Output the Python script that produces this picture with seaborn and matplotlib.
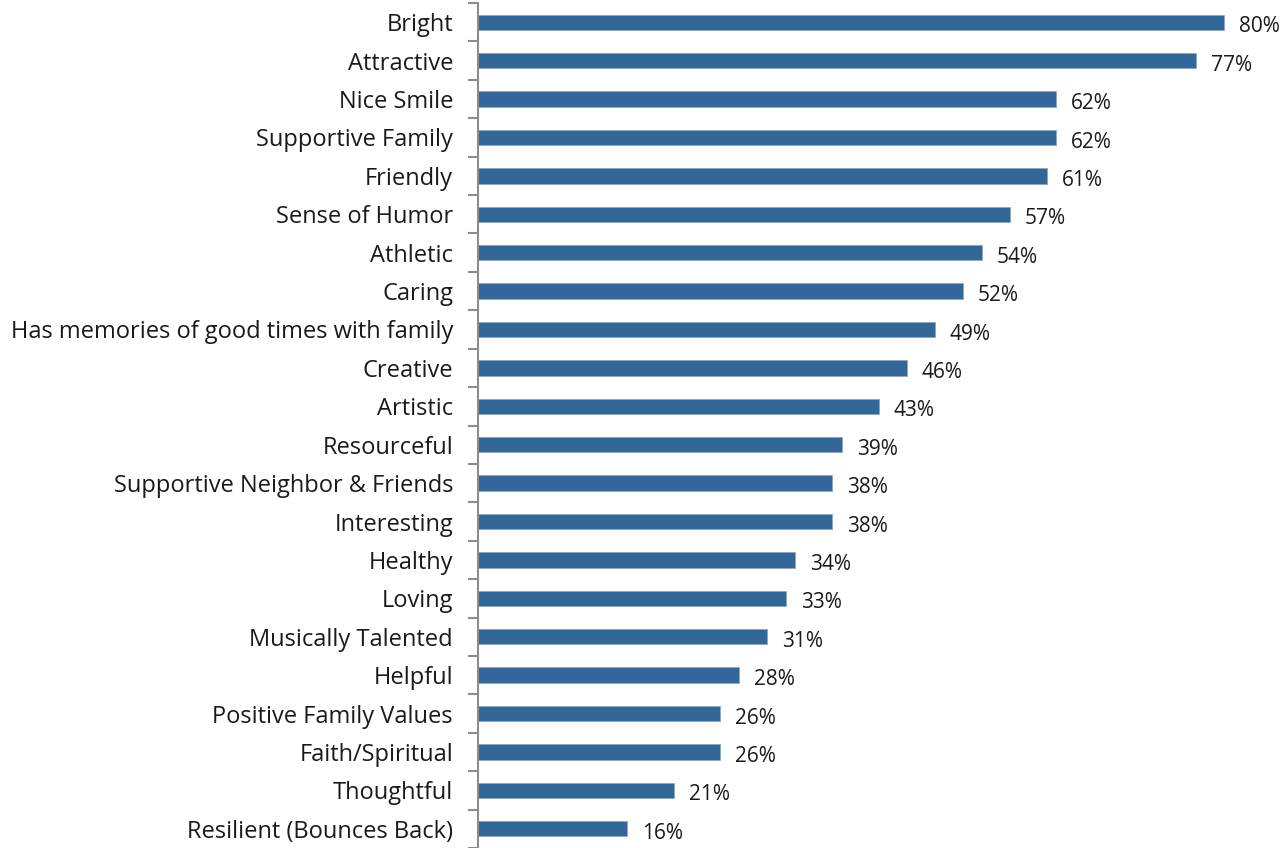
import matplotlib
matplotlib.use("Agg")
import matplotlib.pyplot as plt
import seaborn as sns
import numpy as np
import pandas as pd

categories = ["Bright", "Attractive", "Nice Smile", "Supportive Family", "Friendly",
              "Sense of Humor", "Athletic", "Caring", "Has memories of good times with family",
              "Creative", "Artistic", "Resourceful", "Supportive Neighbor & Friends",
              "Interesting", "Healthy", "Loving", "Musically Talented", "Helpful",
              "Positive Family Values", "Faith/Spiritual", "Thoughtful", "Resilient (Bounces Back)"]
values = [80, 77, 62, 62, 61, 57, 54, 52, 49, 46, 43, 39, 38, 38, 34, 33, 31, 28, 26, 26, 21, 16]

sns.set_theme(style="white")
plt.rcParams['font.family'] = ['Open Sans', 'DejaVu Sans']

df = pd.DataFrame({"cat": categories, "val": values})

fig = plt.figure(figsize=(12.81, 8.48), dpi=100)
ax = fig.add_axes([478/1281, 0.0, 1 - 478/1281, 1 - 3/848])
sns.barplot(data=df, y="cat", x="val", orient="h", color="#336699", saturation=1,
            width=0.4, ax=ax, edgecolor="#8aa8c8", linewidth=0.6)

ax.set_xlim(0, 86.1)
ax.set_ylim(len(categories) - 0.5, -0.5)
ax.set_xlabel("")
ax.set_ylabel("")
ax.set_xticks([])
for s in ["top", "right", "bottom"]:
    ax.spines[s].set_visible(False)
ax.spines["left"].set_color("#8c8c8c")
ax.spines["left"].set_linewidth(1.5)

ax.set_yticks(range(len(categories)))
ax.set_yticklabels(categories, fontsize=17, color="#1a1a1a")
ax.tick_params(axis="y", which="major", length=0, pad=18)
ax.set_yticks(np.arange(-0.5, len(categories), 1), minor=True)
ax.tick_params(axis="y", which="minor", length=7, width=1.5, color="#8c8c8c", left=True)

for i, v in enumerate(values):
    ax.text(v + 1.6, i + 0.12, f"{v}%", va="center", ha="left", fontsize=15, color="#1a1a1a",
            clip_on=False)

fig.savefig("out.png", dpi=100)
